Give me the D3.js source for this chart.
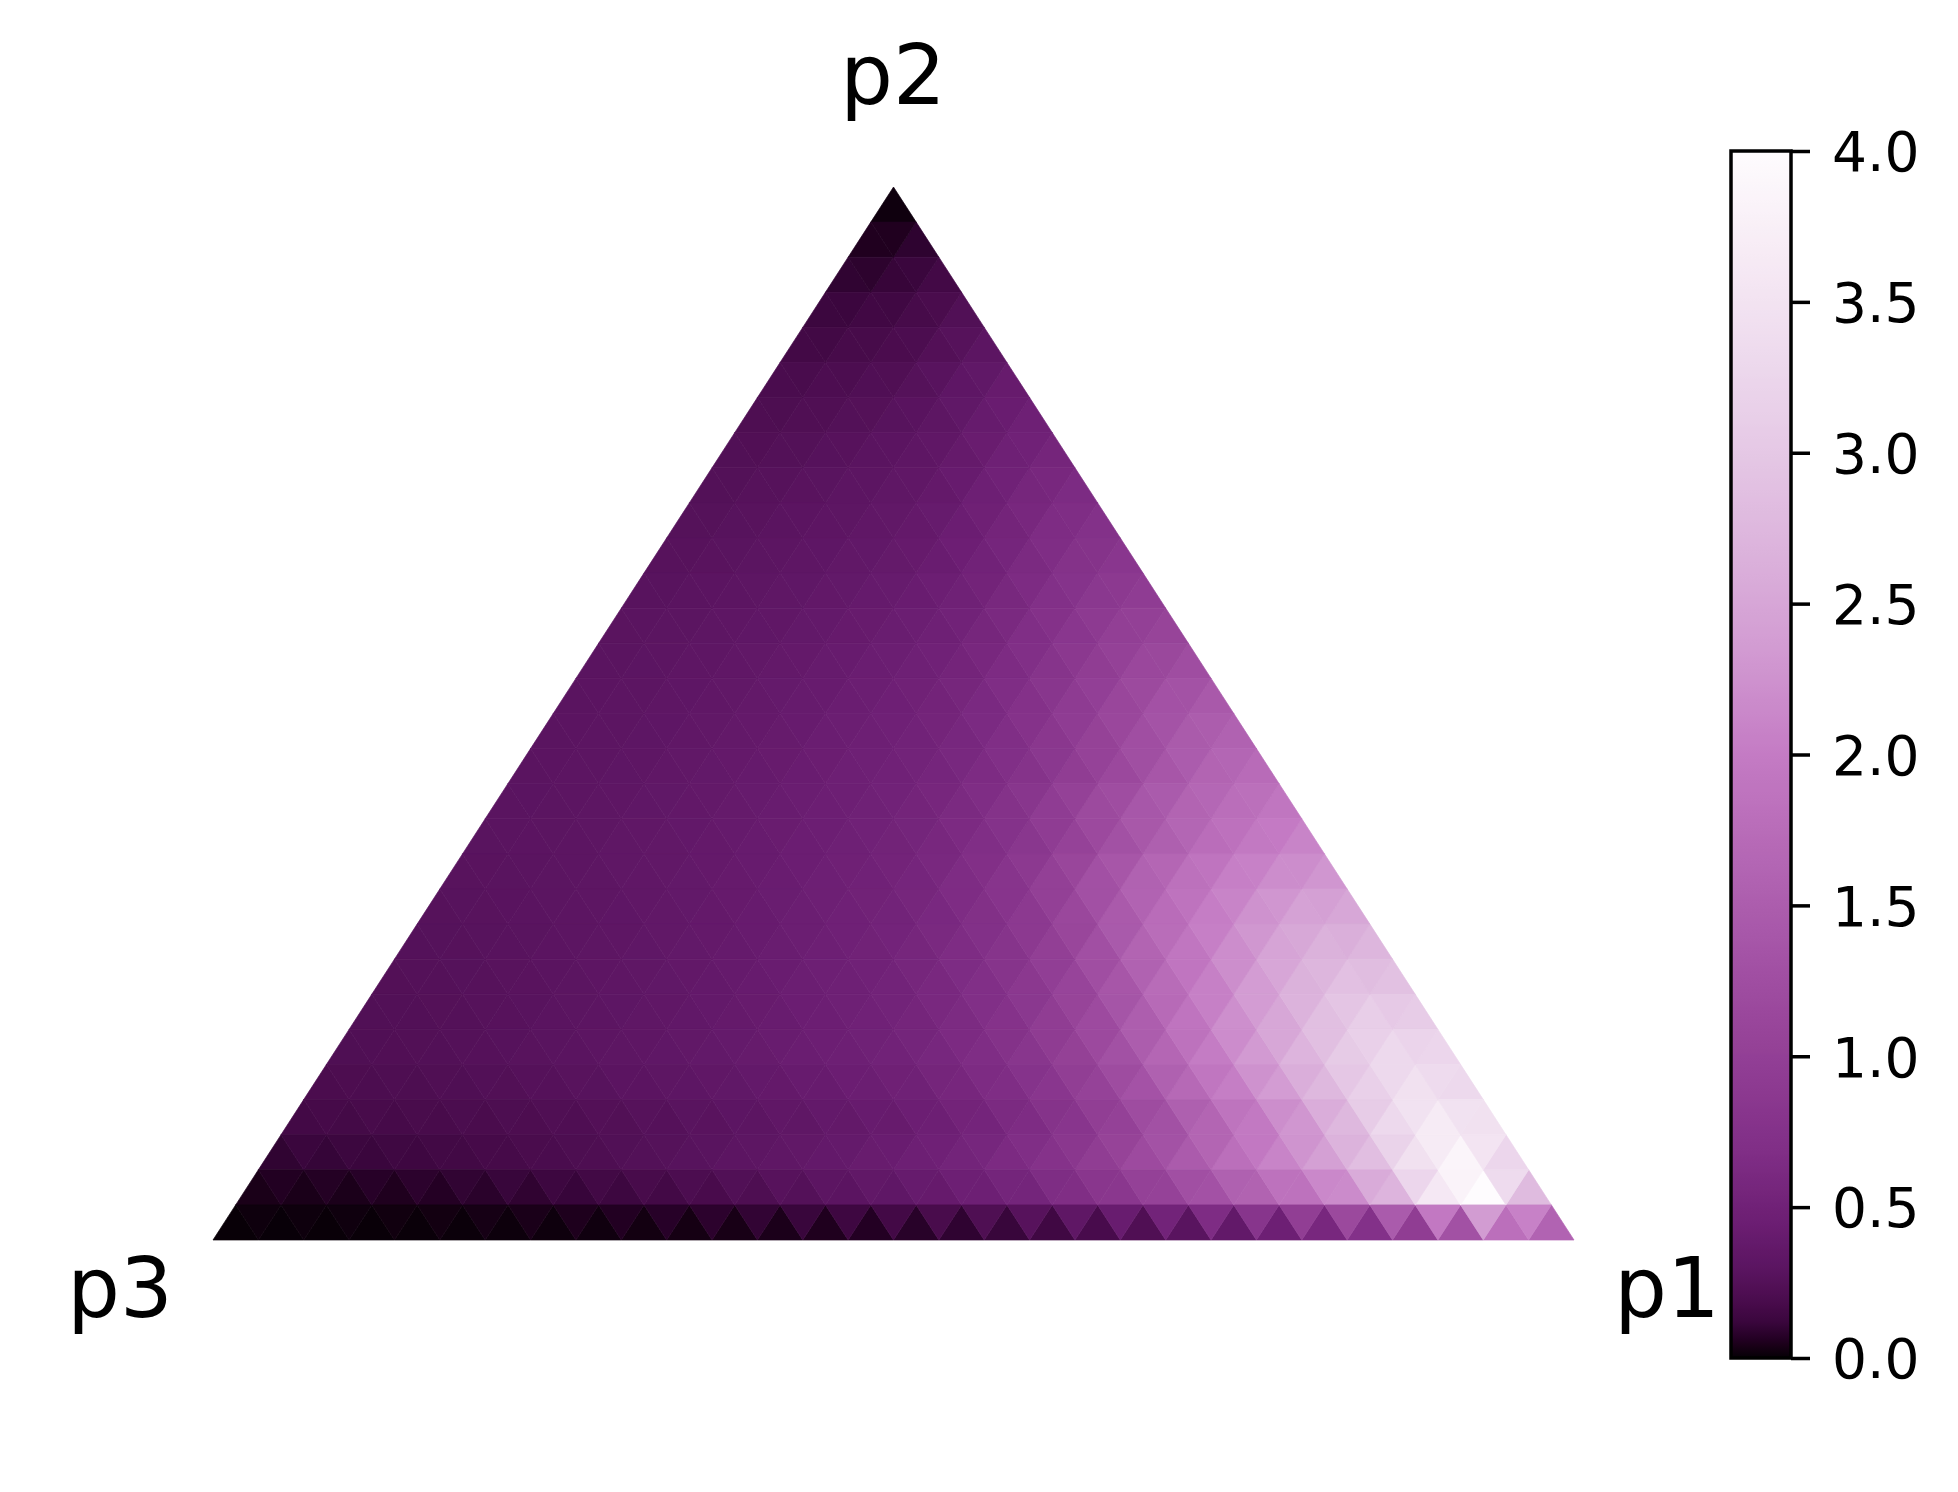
<!DOCTYPE html>
<html><head><meta charset="utf-8">
<script src="https://cdn.jsdelivr.net/npm/d3@7"></script>
<style>body{margin:0;background:#fff}svg{display:block}</style>
</head><body>
<svg id="chart" width="1958" height="1492"></svg>
<script>
// ---- data ----
const cornerLabels = ["p1", "p2", "p3"];
// heat values of the upward cells, one array per level of p2 (bottom -> top), p1 increasing left -> right
const row00 = [.005,.006,.007,.008,.01,.012,.015,.018,.022,.027,.032,.038,.045,.053,.063,.075,.093,.116,.146,.183,.226,.285,.365,.466,.589,.742,.95,1.3,1.8,1.6];
const row01 = [.042,.043,.045,.053,.064,.079,.094,.113,.133,.159,.184,.219,.254,.297,.337,.393,.46,.546,.679,.847,1.05,1.31,1.59,1.84,2.17,2.7,3.6,3.99,2.8];
const row02 = [.096,.108,.119,.135,.153,.173,.195,.218,.248,.274,.304,.336,.372,.411,.462,.533,.632,.766,.954,1.19,1.47,1.80,2.10,2.42,2.85,3.45,3.85,3.25];
const row03 = [.157,.163,.17,.18,.192,.208,.222,.239,.259,.281,.308,.336,.366,.402,.462,.544,.654,.815,1.03,1.30,1.63,1.96,2.30,2.75,3.3,3.65,3.45];
const row04 = [.197,.204,.213,.225,.24,.258,.274,.296,.32,.346,.377,.408,.444,.49,.574,.674,.833,1.05,1.33,1.69,2.03,2.37,2.75,3.15,3.45,3.3];
const row05 = [.225,.233,.243,.257,.275,.294,.314,.337,.365,.395,.43,.466,.507,.582,.676,.823,1.02,1.30,1.65,2.01,2.34,2.7,3.05,3.3,3.25];
const row06 = [.236,.244,.254,.269,.289,.308,.33,.356,.385,.418,.455,.494,.55,.638,.761,.946,1.19,1.52,1.88,2.22,2.52,2.86,3.1,3.08];
const row07 = [.245,.254,.266,.282,.302,.323,.346,.374,.406,.442,.478,.521,.597,.705,.862,1.09,1.39,1.74,2.06,2.37,2.66,2.88,2.9];
const row08 = [.256,.265,.277,.295,.316,.337,.362,.392,.427,.462,.503,.563,.654,.788,.984,1.27,1.61,1.92,2.20,2.47,2.66,2.72];
const row09 = [.266,.275,.288,.307,.329,.351,.377,.409,.444,.482,.524,.603,.716,.888,1.13,1.45,1.75,2.02,2.25,2.44,2.51];
const row10 = [.276,.286,.30,.319,.341,.365,.393,.425,.461,.501,.559,.653,.796,1.01,1.29,1.58,1.83,2.04,2.2,2.29];
const row11 = [.284,.295,.309,.33,.351,.376,.405,.438,.475,.516,.586,.685,.841,1.05,1.30,1.54,1.77,1.96,2.10];
const row12 = [.29,.301,.316,.338,.359,.385,.416,.451,.488,.541,.625,.753,.936,1.18,1.40,1.61,1.78,1.91];
const row13 = [.292,.304,.32,.342,.365,.392,.424,.459,.498,.557,.644,.773,.953,1.16,1.39,1.61,1.73];
const row14 = [.293,.304,.321,.343,.367,.395,.429,.465,.511,.579,.691,.845,1.04,1.25,1.46,1.58];
const row15 = [.293,.304,.322,.344,.369,.399,.433,.47,.528,.616,.749,.925,1.12,1.31,1.43];
const row16 = [.292,.303,.322,.344,.368,.397,.43,.474,.54,.647,.791,.953,1.13,1.23];
const row17 = [.287,.298,.317,.338,.363,.393,.426,.478,.563,.689,.835,.993,1.08];
const row18 = [.28,.292,.31,.331,.357,.387,.425,.489,.59,.721,.857,.943];
const row19 = [.27,.282,.301,.322,.349,.378,.425,.509,.627,.751,.837];
const row20 = [.26,.272,.291,.313,.34,.375,.438,.541,.655,.738];
const row21 = [.25,.263,.281,.304,.33,.376,.459,.561,.64];
const row22 = [.236,.249,.267,.29,.322,.385,.476,.552];
const row23 = [.216,.229,.249,.272,.317,.398,.473];
const row24 = [.195,.21,.23,.26,.328,.402];
const row25 = [.16,.177,.198,.245,.31];
const row26 = [.13,.148,.175,.235];
const row27 = [.095,.112,.16];
const row28 = [.055,.09];
const row29 = [.02];
const heatRows = [row00,row01,row02,row03,row04,row05,row06,row07,row08,row09,row10,row11,row12,row13,row14,row15,row16,row17,row18,row19,row20,row21,row22,row23,row24,row25,row26,row27,row28,row29];
const colorTicks = [0, 0.5, 1.0, 1.5, 2.0, 2.5, 3.0, 3.5, 4.0];
const colorDomain = [0, 4];
// colormap stops (value -> colour)
const cmapValues = [0, .03, .06, .12, .18, .29, .45, .67, .90, 1.12, 1.34, 1.56, 1.78, 2.0, 2.35, 2.68, 3.0, 3.34, 3.67, 4.0];
const cmapColors = ["#050005","#140012","#220022","#3a063d","#480b4b","#5a1460","#6c1e73","#7f2d85","#8d3a91","#99469b","#a453a6","#af61b0","#ba6eba","#c47bc4","#d29bd2","#dcb3dc","#e5c8e5","#eedbee","#f7ecf5","#fefcfe"];

// ---- drawing ----
const svg = d3.select("#chart");
const N = heatRows.length;
const color = d3.scaleLinear().domain(cmapValues).range(cmapColors).interpolate(d3.interpolateRgb).clamp(true);
const xT = d3.scaleLinear().domain([0, 1]).range([213, 1574]);
const yT = d3.scaleLinear().domain([0, 1]).range([1240, 187]);
const pt = (i, j) => [xT((i + j / 2) / N), yT(j / N)];

const cells = [];
heatRows.forEach((row, j) => row.forEach((v, i) => {
  cells.push({pts: [pt(i, j), pt(i + 1, j), pt(i, j + 1)], v});
}));
heatRows.forEach((row, j) => {
  for (let i = 0; i < row.length - 1; i++) {
    const v = (row[i] + row[i + 1] + heatRows[j + 1][i]) / 3;
    cells.push({pts: [pt(i + 1, j), pt(i, j + 1), pt(i + 1, j + 1)], v});
  }
});
const line = d3.line();
svg.append("g").selectAll("path").data(cells).join("path")
  .attr("d", d => line(d.pts) + "Z")
  .attr("fill", d => color(d.v))
  .attr("stroke", d => color(d.v))
  .attr("stroke-width", 0.7)
  .attr("stroke-linejoin", "round");

// corner labels
const labelFont = "DejaVu Sans, sans-serif";
const labelPos = [[1667, 1317], [893, 104], [120, 1317]];
svg.append("g").selectAll("text").data(cornerLabels).join("text")
  .attr("x", (d, k) => labelPos[k][0]).attr("y", (d, k) => labelPos[k][1])
  .attr("text-anchor", "middle")
  .attr("font-family", labelFont).attr("font-size", 83)
  .attr("fill", "#000").text(d => d);

// colorbar
const cbX = 1731, cbW = 60;
const yc = d3.scaleLinear().domain(colorDomain).range([1358, 151]);
const defs = svg.append("defs");
const grad = defs.append("linearGradient").attr("id", "cbgrad")
  .attr("x1", 0).attr("y1", 1).attr("x2", 0).attr("y2", 0);
d3.range(0, 201).forEach(k => {
  const v = colorDomain[0] + (colorDomain[1] - colorDomain[0]) * k / 200;
  grad.append("stop").attr("offset", (k / 200)).attr("stop-color", color(v));
});
svg.append("rect").attr("x", cbX).attr("y", yc(4)).attr("width", cbW).attr("height", yc(0) - yc(4))
  .attr("fill", "url(#cbgrad)");
svg.append("rect").attr("x", cbX).attr("y", yc(4)).attr("width", cbW).attr("height", yc(0) - yc(4))
  .attr("fill", "none").attr("stroke", "#000").attr("stroke-width", 3.5);
const axis = d3.axisRight(yc).tickValues(colorTicks).tickFormat(d3.format(".1f")).tickSize(19).tickPadding(22);
const ag = svg.append("g").attr("transform", `translate(${cbX + cbW},0)`).call(axis);
ag.select(".domain").remove();
ag.selectAll(".tick line").attr("stroke", "#000").attr("stroke-width", 3.5);
ag.selectAll(".tick text").attr("font-family", labelFont).attr("font-size", 55).attr("fill", "#000").attr("dy", "0.36em");
</script>
</body></html>
